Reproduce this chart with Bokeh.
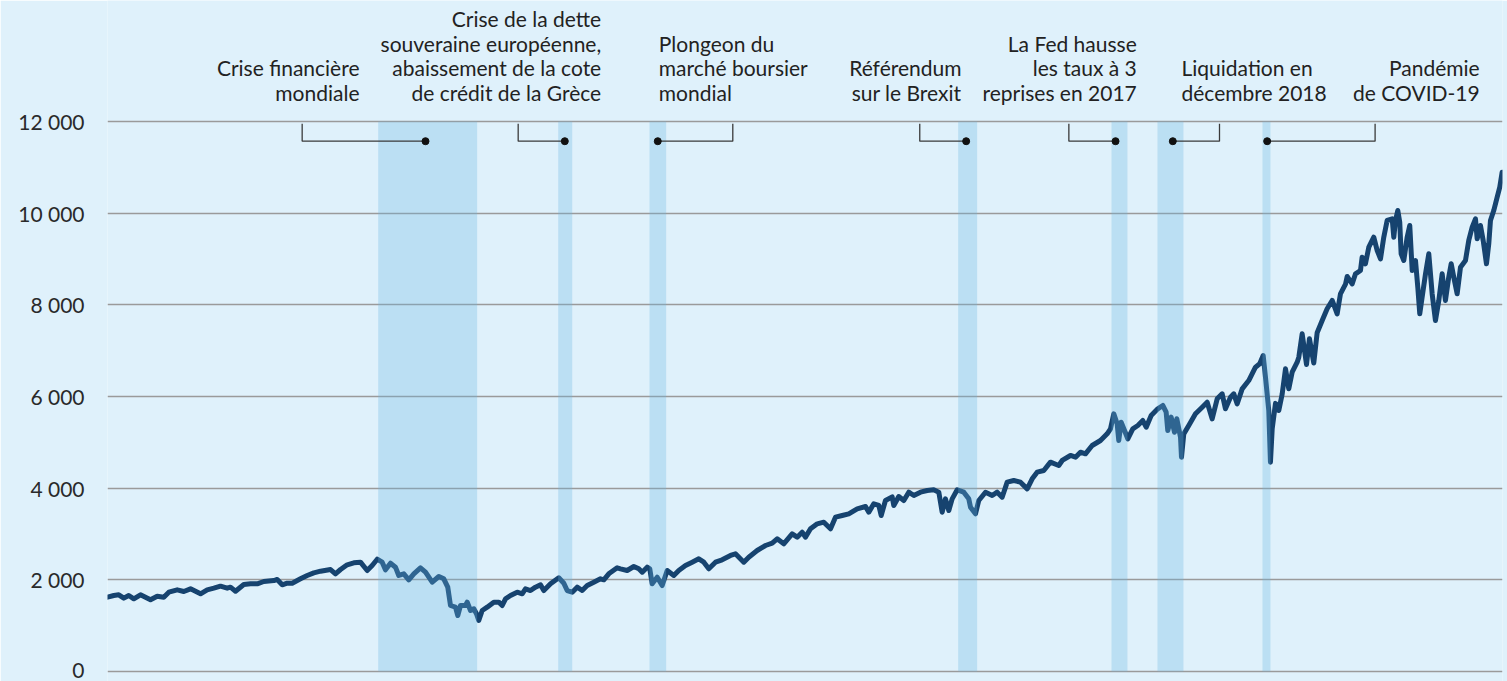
from bokeh.plotting import figure
from bokeh.models import ColumnDataSource, Range1d, FixedTicker
from bokeh.core.properties import value
from bokeh.embed import file_html
from bokeh.resources import INLINE

# ---- data ----
years = [
    2004.000, 2004.090, 2004.161, 2004.233, 2004.304, 2004.376, 2004.471, 2004.614, 2004.710, 2004.804,
    2004.876, 2004.996, 2005.090, 2005.186, 2005.329, 2005.424, 2005.519, 2005.614, 2005.710, 2005.757,
    2005.829, 2005.947, 2006.043, 2006.139, 2006.233, 2006.376, 2006.424, 2006.496, 2006.567, 2006.639,
    2006.757, 2006.853, 2006.947, 2007.043, 2007.186, 2007.257, 2007.329, 2007.424, 2007.519, 2007.614,
    2007.710, 2007.781, 2007.853, 2007.924, 2007.971, 2008.043, 2008.114, 2008.161, 2008.233, 2008.304,
    2008.376, 2008.471, 2008.543, 2008.639, 2008.733, 2008.804, 2008.861, 2008.900, 2008.971, 2009.004,
    2009.043, 2009.114, 2009.139, 2009.186, 2009.233, 2009.271, 2009.304, 2009.353, 2009.424, 2009.519,
    2009.590, 2009.639, 2009.686, 2009.757, 2009.853, 2009.924, 2009.971, 2010.043, 2010.114, 2010.186,
    2010.233, 2010.329, 2010.447, 2010.519, 2010.567, 2010.639, 2010.710, 2010.781, 2010.853, 2010.947,
    2011.043, 2011.090, 2011.161, 2011.281, 2011.329, 2011.424, 2011.519, 2011.590, 2011.639, 2011.710,
    2011.747, 2011.781, 2011.853, 2011.924, 2011.996, 2012.090, 2012.161, 2012.257, 2012.353, 2012.447,
    2012.519, 2012.590, 2012.686, 2012.781, 2012.900, 2012.971, 2013.090, 2013.161, 2013.281, 2013.400,
    2013.496, 2013.567, 2013.661, 2013.781, 2013.853, 2013.924, 2013.971, 2014.043, 2014.139, 2014.233,
    2014.329, 2014.400, 2014.496, 2014.590, 2014.710, 2014.829, 2014.876, 2014.947, 2015.019, 2015.053,
    2015.114, 2015.210, 2015.233, 2015.304, 2015.376, 2015.447, 2015.519, 2015.614, 2015.710, 2015.804,
    2015.876, 2015.924, 2015.971, 2016.019, 2016.067, 2016.139, 2016.233, 2016.304, 2016.329, 2016.400,
    2016.447, 2016.543, 2016.639, 2016.710, 2016.781, 2016.853, 2016.947, 2017.043, 2017.139, 2017.210,
    2017.281, 2017.376, 2017.471, 2017.590, 2017.639, 2017.757, 2017.829, 2017.900, 2017.971, 2018.067,
    2018.186, 2018.281, 2018.329, 2018.376, 2018.424, 2018.447, 2018.481, 2018.529, 2018.576, 2018.647,
    2018.719, 2018.790, 2018.839, 2018.910, 2019.004, 2019.076, 2019.124, 2019.147, 2019.196, 2019.243,
    2019.276, 2019.329, 2019.343, 2019.376, 2019.447, 2019.543, 2019.639, 2019.710, 2019.781, 2019.853,
    2019.924, 2019.971, 2020.043, 2020.090, 2020.139, 2020.210, 2020.304, 2020.400, 2020.461, 2020.510,
    2020.543, 2020.590, 2020.614, 2020.639, 2020.686, 2020.733, 2020.781, 2020.829, 2020.876, 2020.924,
    2020.996, 2021.019, 2021.067, 2021.129, 2021.171, 2021.233, 2021.281, 2021.353, 2021.424, 2021.496,
    2021.567, 2021.614, 2021.686, 2021.710, 2021.781, 2021.829, 2021.900, 2021.924, 2021.971, 2022.019,
    2022.090, 2022.139, 2022.186, 2022.233, 2022.281, 2022.353, 2022.376, 2022.400, 2022.433, 2022.461,
    2022.481, 2022.519, 2022.567, 2022.604, 2022.639, 2022.686, 2022.719, 2022.747, 2022.781, 2022.829,
    2022.876, 2022.924, 2022.971, 2023.019, 2023.067, 2023.114, 2023.161, 2023.196, 2023.233, 2023.281,
    2023.329, 2023.400, 2023.447, 2023.496, 2023.543, 2023.567, 2023.614, 2023.653, 2023.700, 2023.733,
    2023.757, 2023.804, 2023.853, 2023.890, 2023.924,
]
values = [
    1621, 1658, 1673, 1600, 1658, 1586, 1673, 1564, 1643, 1621,
    1730, 1782, 1745, 1804, 1695, 1782, 1818, 1862, 1818, 1840,
    1752, 1898, 1913, 1913, 1964, 1985, 2007, 1891, 1927, 1927,
    2022, 2095, 2153, 2189, 2225, 2131, 2225, 2328, 2371, 2385,
    2204, 2313, 2450, 2385, 2218, 2363, 2276, 2095, 2131, 2000,
    2131, 2262, 2167, 1949, 2073, 2022, 1840, 1440, 1403, 1222,
    1440, 1440, 1513, 1331, 1368, 1259, 1113, 1331, 1403, 1513,
    1513, 1440, 1586, 1658, 1730, 1695, 1804, 1767, 1840, 1891,
    1767, 1913, 2044, 1927, 1767, 1730, 1840, 1767, 1876, 1949,
    2022, 2000, 2131, 2262, 2240, 2204, 2291, 2240, 2167, 2276,
    2240, 1913, 2058, 1876, 2204, 2095, 2204, 2313, 2385, 2458,
    2385, 2240, 2385, 2437, 2531, 2567, 2385, 2494, 2640, 2749,
    2800, 2895, 2786, 3004, 2931, 3040, 2931, 3113, 3222, 3258,
    3113, 3367, 3404, 3440, 3549, 3600, 3476, 3659, 3622, 3404,
    3731, 3810, 3622, 3818, 3731, 3912, 3840, 3912, 3949, 3964,
    3912, 3476, 3767, 3513, 3767, 3964, 3912, 3767, 3585, 3440,
    3731, 3912, 3840, 3912, 3803, 4131, 4167, 4131, 3985, 4204,
    4349, 4385, 4567, 4494, 4604, 4713, 4676, 4785, 4749, 4931,
    5040, 5185, 5295, 5622, 5404, 5040, 5440, 5258, 5077, 5295,
    5367, 5476, 5330, 5585, 5731, 5804, 5658, 5258, 5549, 5221,
    5513, 5113, 4676, 5185, 5367, 5622, 5767, 5876, 5513, 5949,
    6058, 5731, 5985, 6058, 5840, 6167, 6349, 6640, 6713, 6894,
    6421, 5695, 4567, 5300, 5850, 5695, 6050, 6604, 6167, 6530,
    6749, 6858, 7368, 6700, 7259, 6730, 7390, 7658, 7913, 8095,
    7804, 8240, 8450, 8620, 8458, 8677, 8750, 9040, 8895, 9258,
    9476, 9185, 9004, 9476, 9840, 9876, 9476, 9840, 10058, 9803,
    9113, 8967, 9476, 9731, 8749, 8967, 8385, 7804, 8167, 8677,
    9113, 8240, 7658, 8095, 8677, 8095, 8603, 8895, 8603, 8240,
    8822, 8967, 9404, 9694, 9876, 9440, 9731, 9404, 8895, 9331,
    9840, 10058, 10349, 10567, 10894,
]

# highlighted periods (start / end, in years)
band_start = [2007.867, 2010.439, 2011.743, 2016.153, 2018.343, 2019.000, 2020.500]
band_end   = [2009.281, 2010.639, 2011.981, 2016.424, 2018.571, 2019.371, 2020.614]

# annotation texts
event_lines = [
    ["Crise financière", "mondiale"],
    ["Crise de la dette", "souveraine européenne,", "abaissement de la cote", "de crédit de la Grèce"],
    ["Plongeon du", "marché boursier", "mondial"],
    ["Référendum", "sur le Brexit"],
    ["La Fed hausse", "les taux à 3", "reprises en 2017"],
    ["Liquidation en", "décembre 2018"],
    ["Pandémie", "de COVID-19"],
]

y_ticks = [0, 2000, 4000, 6000, 8000, 10000, 12000]
y_tick_labels = ["0", "2 000", "4 000", "6 000", "8 000", "10 000", "12 000"]

# ---- layout / style (positions of annotations, in data units) ----
event_text_x = [2007.600, 2011.053, 2011.876, 2016.200, 2018.704, 2019.343, 2023.603]
event_text_align = ["right", "right", "left", "right", "right", "left", "right"]
line_y = [14237, 13702, 13168, 12633]          # baselines of the 4 possible text lines
conn_tick_x = [2006.781, 2009.867, 2012.933, 2015.604, 2017.734, 2019.886, 2022.109]
conn_dot_x = [2008.543, 2010.533, 2011.861, 2016.267, 2018.401, 2019.219, 2020.567]
conn_top, conn_y = 11950, 11570

BG = "#dff1fb"
FONT = "Lato"
FS = "21px"
TXT = "#222222"

p = figure(width=1507, height=681,
           x_range=Range1d(2004.0, 2023.929), y_range=Range1d(-218.2, 14640.0),
           output_backend="svg", toolbar_location=None, x_axis_type=None,
           min_border_left=107, min_border_right=5, min_border_top=0, min_border_bottom=0,
           background_fill_color=BG, border_fill_color=BG, outline_line_color=None)

ticker = FixedTicker(ticks=y_ticks, minor_ticks=[])
p.yaxis.ticker = ticker
p.yaxis.major_label_overrides = {t: l for t, l in zip(y_ticks, y_tick_labels)}
p.yaxis.axis_line_color = None
p.yaxis.major_tick_line_color = None
p.yaxis.minor_tick_line_color = None
p.yaxis.major_tick_out = 0
p.yaxis.major_tick_in = 0
p.yaxis.major_label_standoff = 23
p.yaxis.major_label_text_font = FONT
p.yaxis.major_label_text_font_size = FS
p.yaxis.major_label_text_color = "#2a2a2a"

p.xgrid.visible = False
p.ygrid.ticker = ticker
p.ygrid.grid_line_color = "#9a9a9a"
p.ygrid.grid_line_width = 1.3

src = ColumnDataSource(data=dict(x=years, y=values))
p.line("x", "y", source=src, line_color="#16436f", line_width=5,
       line_join="round", line_cap="round")

p.quad(left=band_start, right=band_end, bottom=0, top=12000,
       fill_color="#6bb7e1", fill_alpha=0.3, line_color=None)

xs = [[tx, tx, dx] for tx, dx in zip(conn_tick_x, conn_dot_x)]
ys = [[conn_top, conn_y, conn_y] for _ in conn_tick_x]
p.multi_line(xs, ys, line_color="#3a3a3a", line_width=1.3)
p.scatter(conn_dot_x, [conn_y] * len(conn_dot_x), size=7, color="#111111")

for align in ("right", "left"):
    tx, ty, tt = [], [], []
    for lines, x, a in zip(event_lines, event_text_x, event_text_align):
        if a != align:
            continue
        n = len(lines)
        for txt, yy in zip(lines, line_y[4 - n:]):
            tx.append(x)
            ty.append(yy)
            tt.append(txt)
    p.text(tx, ty, text=tt, text_align=align, text_baseline="alphabetic",
           text_font=value(FONT), text_font_size=FS, text_color=TXT)

open("out.html", "w").write(file_html(p, INLINE))
